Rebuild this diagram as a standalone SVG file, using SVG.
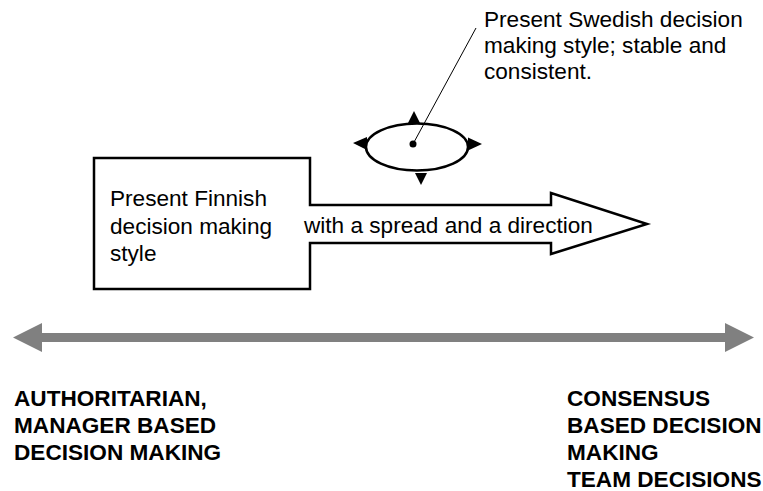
<svg xmlns="http://www.w3.org/2000/svg" width="763" height="491" viewBox="0 0 763 491">
  <style>
    .txt { font-family: "Liberation Sans", Arial, sans-serif; font-size: 22.6px; fill: #000; }
    .bold { font-weight: bold; }
    .outline { fill: #fff; stroke: #000; stroke-width: 2.5; }
    .tri { fill: #000; stroke: none; }
  </style>

  <rect width="763" height="491" fill="#fff"/>

  <!-- Finnish style: box with an arrow pointing right -->
  <g id="finnish">
    <path class="outline" d="M94,158 H310 V205 H551 V193 L647,224 L551,254 V243 H310 V289 H94 Z"/>
    <text class="txt" x="110" y="206">Present Finnish</text>
    <text class="txt" x="110" y="234">decision making</text>
    <text class="txt" x="110" y="261">style</text>
    <text class="txt" x="304" y="233">with a spread and a direction</text>
  </g>

  <!-- Swedish style: small ellipse with four outward pointers -->
  <g id="swedish">
    <ellipse class="outline" cx="417" cy="147" rx="51" ry="23.5"/>
    <polygon class="tri" points="414,111 408,123 420,123"/>
    <polygon class="tri" points="421,185 415,173 427,173"/>
    <polygon class="tri" points="353,143 367,137 367,150"/>
    <polygon class="tri" points="482,144 468,137.5 468,150.5"/>
    <circle cx="413" cy="144" r="3.5" fill="#000"/>
  </g>

  <g id="swedish-label">
    <text class="txt" x="484" y="27">Present Swedish decision</text>
    <text class="txt" x="484" y="53">making style; stable and</text>
    <text class="txt" x="484" y="79">consistent.</text>
  </g>

  <!-- connectors -->
  <g id="connectors">
    <line x1="476" y1="28" x2="413" y2="144" stroke="#000" stroke-width="1"/>
    <!-- scale axis -->
    <path d="M13,337.5 L42,323 V333 H725 V323 L754,337.5 L725,352 V342 H42 V352 Z" fill="#808080"/>
  </g>

  <g id="left-end">
    <text class="txt bold" x="14" y="406">AUTHORITARIAN,</text>
    <text class="txt bold" x="14" y="433">MANAGER BASED</text>
    <text class="txt bold" x="14" y="460">DECISION MAKING</text>
  </g>

  <g id="right-end">
    <text class="txt bold" x="567" y="406">CONSENSUS</text>
    <text class="txt bold" x="567" y="433">BASED DECISION</text>
    <text class="txt bold" x="567" y="460">MAKING</text>
    <text class="txt bold" x="567" y="487">TEAM DECISIONS</text>
  </g>
</svg>
